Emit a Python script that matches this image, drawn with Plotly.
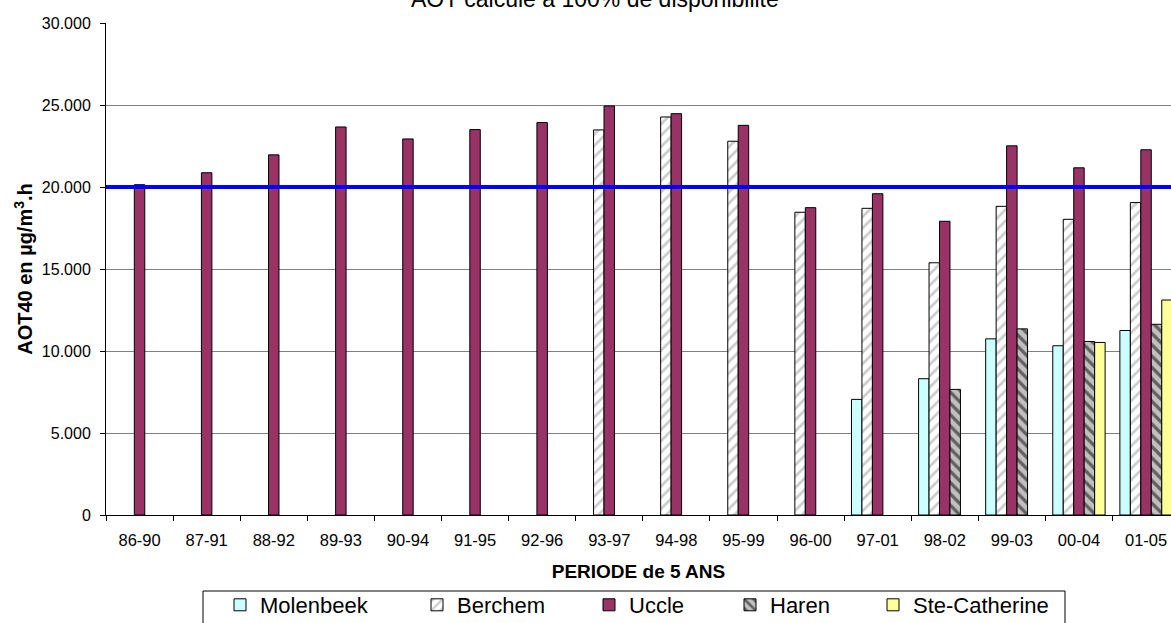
import plotly.graph_objects as go

# Five-year periods on the category axis
periods = ["86-90", "87-91", "88-92", "89-93", "90-94", "91-95", "92-96", "93-97",
           "94-98", "95-99", "96-00", "97-01", "98-02", "99-03", "00-04", "01-05"]

# AOT40 (µg/m³.h) per station, None where no data
molenbeek = [None] * 11 + [7050, 8310, 10740, 10320, 11250]
berchem = [None] * 7 + [23480, 24270, 22790, 18460, 18700, 15380, 18820, 18030, 19050]
uccle = [20140, 20870, 21960, 23660, 22930, 23500, 23930, 24940,
         24470, 23760, 18740, 19590, 17910, 22510, 21170, 22270]
haren = [None] * 12 + [7660, 11350, 10580, 11630]
ste_catherine = [None] * 14 + [10520, 13110]

# Target value line
threshold = 20000

y_tick_vals = [0, 5000, 10000, 15000, 20000, 25000, 30000]
y_tick_text = ["0", "5.000", "10.000", "15.000", "20.000", "25.000", "30.000"]

FONT = "Liberation Sans, Arial, sans-serif"
W, H = 1171, 623
M_L, M_R, M_T, M_B = 106, 0, 23, 108
PLOT_W = W - M_L - M_R
PLOT_H = H - M_T - M_B


def px_x(px):
    return (px - M_L) / PLOT_W


def px_y(py):
    return (H - M_B - py) / PLOT_H


fig = go.Figure()

outline = dict(color="black", width=1)
series = [
    ("Molenbeek", molenbeek, dict(color="#CCFFFF", line=outline)),
    ("Berchem", berchem, dict(color="white", line=outline,
                              pattern=dict(shape="/", fgcolor="#9a9a9a", bgcolor="white",
                                           size=8, solidity=0.35))),
    ("Uccle", uccle, dict(color="#993366", line=outline)),
    ("Haren", haren, dict(color="#C0C0C0", line=outline,
                          pattern=dict(shape="\\", fgcolor="black", bgcolor="#C0C0C0",
                                       size=8, solidity=0.4))),
    ("Ste-Catherine", ste_catherine, dict(color="#FFFF99", line=outline)),
]

# each legend entry gets its own legend so entries sit where wanted
legend_centers = [240, 437, 609, 750, 893]
legend_ids = ["legend", "legend2", "legend3", "legend4", "legend5"]
legend_row_y = 605
legend_layout = {}
for (name, vals, marker), lid, cx in zip(series, legend_ids, legend_centers):
    fig.add_trace(go.Bar(name=name, x=periods, y=vals, marker=marker, legend=lid))
    legend_layout[lid] = dict(orientation="h", x=px_x(cx - 20), xanchor="left",
                              y=px_y(legend_row_y), yanchor="middle",
                              bgcolor="rgba(0,0,0,0)", borderwidth=0,
                              font=dict(family=FONT, size=22, color="black"))

fig.add_shape(type="line", xref="paper", x0=0, x1=1, yref="y", y0=threshold, y1=threshold,
              line=dict(color="#0000FF", width=4), layer="above")

# legend frame
fig.add_shape(type="rect", xref="paper", yref="paper",
              x0=px_x(203), x1=px_x(1065), y0=px_y(591), y1=px_y(660),
              line=dict(color="black", width=1), fillcolor="rgba(0,0,0,0)")

cat_px = 67.1
x_right = 15.5 - (M_L + 16 * cat_px - W) / cat_px

fig.add_annotation(text="AOT calculé à 100% de disponibilité", xref="paper", yref="paper",
                   x=px_x(595), y=px_y(14), xanchor="center", yanchor="bottom",
                   showarrow=False, font=dict(family=FONT, size=23, color="black"))

fig.update_layout(
    width=W, height=H,
    margin=dict(l=M_L, r=M_R, t=M_T, b=M_B, pad=0, autoexpand=False),
    paper_bgcolor="white", plot_bgcolor="white",
    font=dict(family=FONT, color="black", size=16),
    barmode="group", bargap=0.22, bargroupgap=0,
    showlegend=True,
    **legend_layout,
)

fig.update_xaxes(type="category", range=[-0.5, x_right], tickson="boundaries",
                 ticks="outside", ticklen=5, tickcolor="black",
                 showline=True, linecolor="black", linewidth=1,
                 showgrid=False, tickfont=dict(size=16.5), ticklabelstandoff=10,
                 title=dict(text="<b>PERIODE de 5 ANS</b>", font=dict(size=19), standoff=16))
fig.update_yaxes(range=[0, 30000], tickvals=y_tick_vals, ticktext=y_tick_text,
                 ticks="outside", ticklen=5, tickcolor="black",
                 showline=True, linecolor="black", linewidth=1,
                 showgrid=True, gridcolor="#808080", gridwidth=1, zeroline=False,
                 tickfont=dict(size=16), ticklabelstandoff=6,
                 title=dict(text="<b>AOT40 en µg/m<sup>3</sup>.h</b>", font=dict(size=20),
                            standoff=3))

fig.write_html("out.html")
